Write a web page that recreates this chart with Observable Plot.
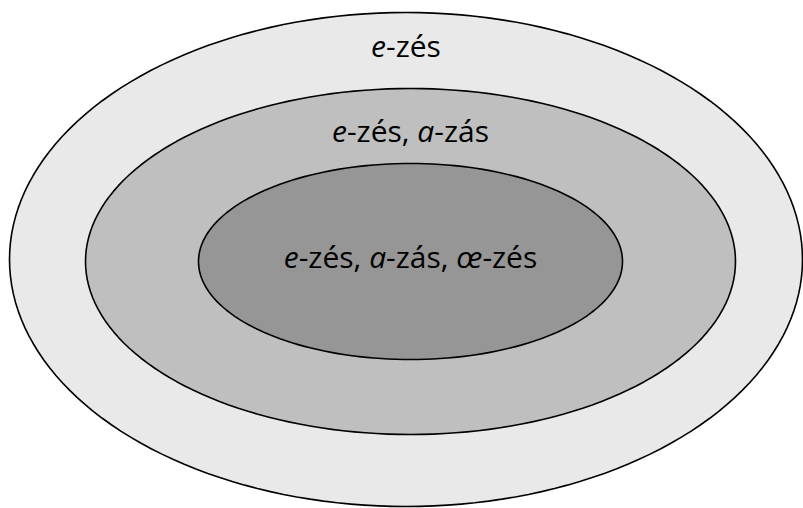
<!DOCTYPE html>
<html>
<head>
<meta charset="utf-8">
<script src="https://cdn.jsdelivr.net/npm/d3@7"></script>
<script src="https://cdn.jsdelivr.net/npm/@observablehq/plot@0.6"></script>
<style>
  html, body { margin: 0; padding: 0; background: #ffffff; }
  #chart svg { display: block; }
</style>
</head>
<body>
<div id="chart"></div>
<script>
// Nested sets, outermost first
const ringLabels = ["e-zés", "e-zés, a-zás", "e-zés, a-zás, œ-zés"];
const ringCenterX = [405.5, 410, 410];
const ringCenterY = [259, 261, 261];
const ringRadiusX = [396.5, 325, 212];
const ringRadiusY = [247, 173, 98];
const labelY = [47, 132, 258];
const ringFills = ["#e9e9e9", "#bfbfbf", "#969696"];

const W = 803, H = 508;

// Build outline points for each ellipse from its centre and radii
const outlines = ringLabels.map((label, i) =>
  d3.range(0, 361, 2).map(deg => {
    const t = deg * Math.PI / 180;
    return {ring: i, x: ringCenterX[i] + ringRadiusX[i] * Math.cos(t), y: ringCenterY[i] + ringRadiusY[i] * Math.sin(t)};
  })
);
const labelRows = ringLabels.map((label, i) => ({label, x: ringCenterX[i], y: labelY[i]}));

const marks = outlines.map((pts, i) =>
  Plot.line(pts, {x: "x", y: "y", fill: ringFills[i], stroke: "#000", strokeWidth: 1.6, curve: "linear-closed"})
);
marks.push(Plot.text(labelRows, {
  x: "x", y: "y", text: "label", textAnchor: "middle", lineAnchor: "middle",
  fontSize: 30, fill: "#000"
}));

const chart = Plot.plot({
  width: W, height: H,
  margin: 0,
  x: {domain: [0, W], range: [0, W], axis: null},
  y: {domain: [0, H], range: [0, H], axis: null},
  style: {fontFamily: "'Open Sans', 'DejaVu Sans', sans-serif", background: "#fff"},
  marks
});

// Italicise the variable letters (e, a, œ before a hyphen)
d3.select(chart).selectAll("text").each(function () {
  const node = d3.select(this);
  const s = node.text();
  const parts = s.split(/(^|, )(e|a|œ)(?=-)/).filter(p => p !== undefined && p !== "");
  node.text(null);
  const re = /^(e|a|œ)$/;
  parts.forEach((p, k) => {
    const isVar = re.test(p) && (k + 1 < parts.length) && parts[k + 1].startsWith("-");
    const ts = node.append("tspan").text(p);
    if (isVar) ts.attr("font-style", "italic");
  });
});

document.getElementById("chart").appendChild(chart);
</script>
</body>
</html>
